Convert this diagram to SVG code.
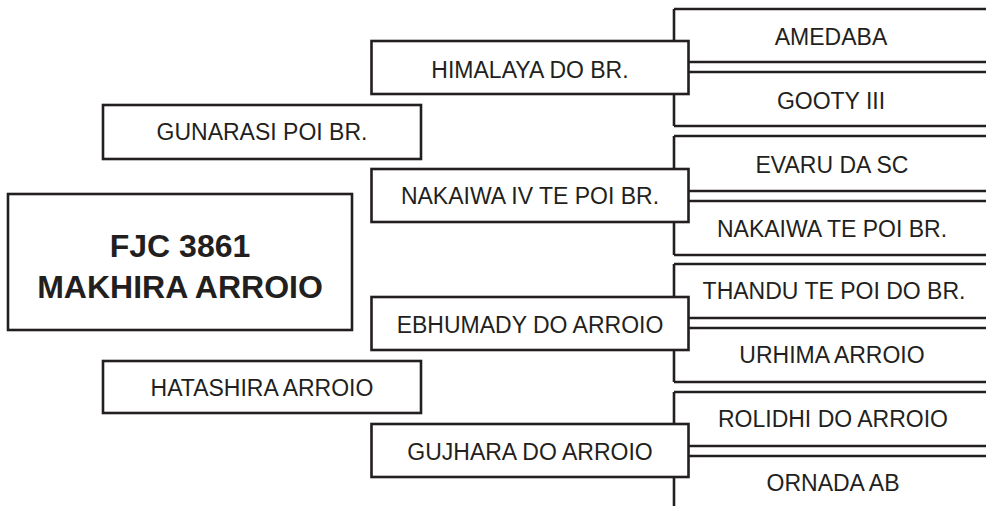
<svg xmlns="http://www.w3.org/2000/svg" width="986" height="506" viewBox="0 0 986 506">
<style>
  .box { fill: #ffffff; stroke: #231f20; stroke-width: 2.6; }
  .line { fill: none; stroke: #231f20; stroke-width: 2.6; }
  .t { font-family: "Liberation Sans", Arial, sans-serif; font-size: 23px; fill: #231f20; text-anchor: middle; }
  .tb { font-family: "Liberation Sans", Arial, sans-serif; font-size: 32px; font-weight: bold; fill: #231f20; text-anchor: middle; }
</style>
<rect width="986" height="506" fill="#ffffff"/>

<!-- right-hand cells (open on the right) -->
<g id="amedaba"><path class="line" d="M990,9 H674 M674,62 H990"/><text class="t" x="831" y="45">AMEDABA</text></g>
<g id="gooty-iii"><path class="line" d="M990,72 H674 M674,126 H990"/><text class="t" x="831" y="109">GOOTY III</text></g>
<g id="evaru-da-sc"><path class="line" d="M990,136 H674 M674,191 H990"/><text class="t" x="832" y="173">EVARU DA SC</text></g>
<g id="nakaiwa-te-poi-br"><path class="line" d="M990,201 H674 M674,255 H990"/><text class="t" x="832" y="237">NAKAIWA TE POI BR.</text></g>
<g id="thandu-te-poi-do-br"><path class="line" d="M990,264 H674 M674,318 H990"/><text class="t" x="834" y="299">THANDU TE POI DO BR.</text></g>
<g id="urhima-arroio"><path class="line" d="M990,328 H674 M674,382 H990"/><text class="t" x="832" y="363">URHIMA ARROIO</text></g>
<g id="rolidhi-do-arroio"><path class="line" d="M990,392 H674 M674,446 H990"/><text class="t" x="833" y="427">ROLIDHI DO ARROIO</text></g>
<g id="ornada-ab"><path class="line" d="M990,456 H674 M674,512 H990"/><text class="t" x="833" y="491">ORNADA AB</text></g>

<!-- connectors -->
<g id="connectors">
  <path class="line" d="M674,9 V126"/>
  <path class="line" d="M674,136 V255"/>
  <path class="line" d="M674,264 V382"/>
  <path class="line" d="M674,392 V512"/>
</g>

<!-- middle column -->
<g id="himalaya-do-br"><rect class="box" x="371.5" y="41" width="317" height="53"/><text class="t" x="530" y="77.5">HIMALAYA DO BR.</text></g>
<g id="nakaiwa-iv-te-poi-br"><rect class="box" x="371.5" y="169" width="317" height="53"/><text class="t" x="530" y="203.5">NAKAIWA IV TE POI BR.</text></g>
<g id="ebhumady-do-arroio"><rect class="box" x="371.5" y="297" width="317" height="53"/><text class="t" x="530" y="332.5">EBHUMADY DO ARROIO</text></g>
<g id="gujhara-do-arroio"><rect class="box" x="371.5" y="424" width="317" height="53"/><text class="t" x="530" y="460">GUJHARA DO ARROIO</text></g>

<!-- left column -->
<g id="gunarasi-poi-br"><rect class="box" x="103" y="105" width="318" height="54"/><text class="t" x="262" y="140">GUNARASI POI BR.</text></g>
<g id="hatashira-arroio"><rect class="box" x="103" y="361" width="318" height="52"/><text class="t" x="262" y="395.5">HATASHIRA ARROIO</text></g>

<!-- subject -->
<g id="fjc-3861"><rect class="box" x="8" y="194" width="344" height="136"/>
  <text class="tb" x="180" y="257">FJC 3861</text>
  <text class="tb" x="180" y="298">MAKHIRA ARROIO</text>
</g>
</svg>
